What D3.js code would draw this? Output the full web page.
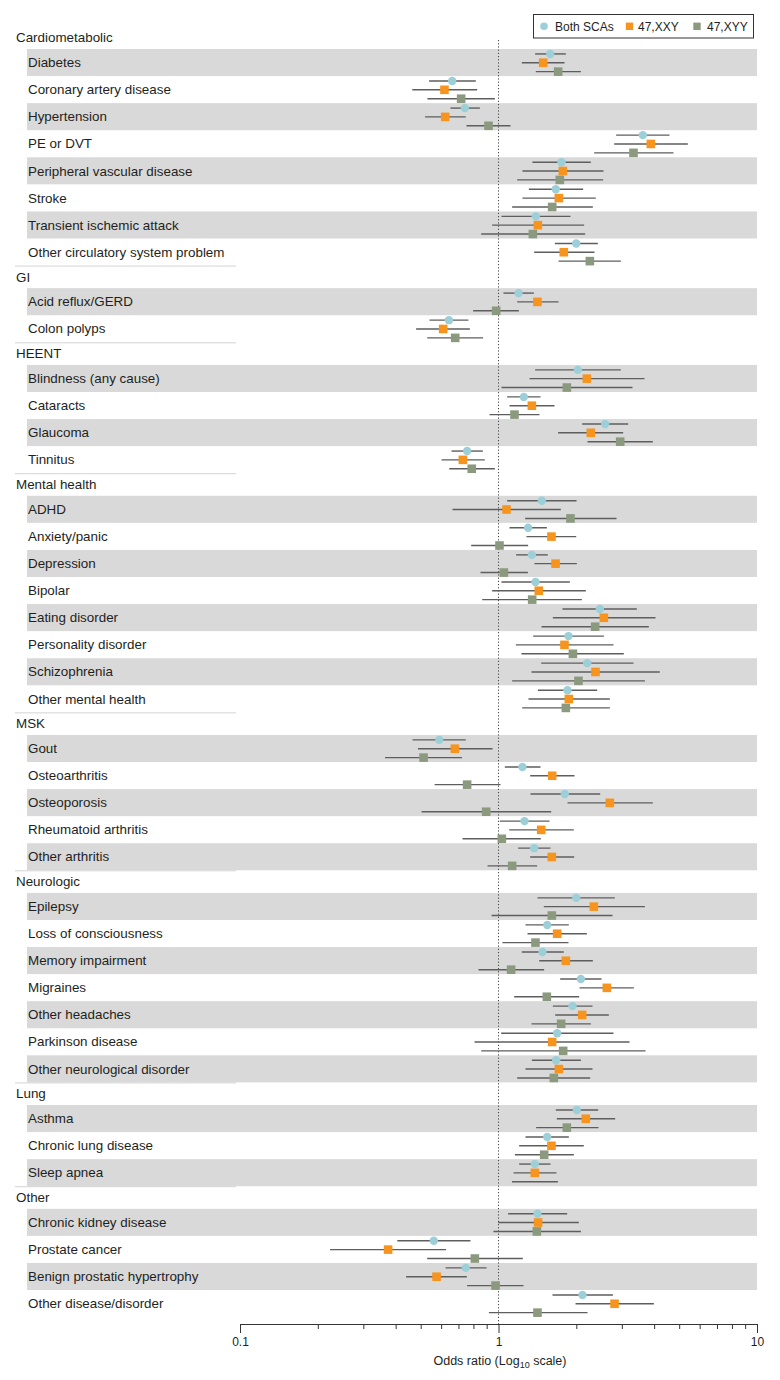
<!DOCTYPE html>
<html><head><meta charset="utf-8">
<script src="https://cdn.jsdelivr.net/npm/d3@7"></script>
<style>
body{margin:0;background:#fff}
svg text{font-family:"Liberation Sans",Arial,sans-serif;fill:#231f20}
</style>
</head><body>
<svg id="chart" width="780" height="1380"></svg>
<script>
const groupNames = ["Cardiometabolic","GI","HEENT","Mental health","MSK","Neurologic","Lung","Other"];
const groupCounts = [8,2,4,8,5,7,3,4];
const labels = [
 "Diabetes","Coronary artery disease","Hypertension","PE or DVT","Peripheral vascular disease","Stroke","Transient ischemic attack","Other circulatory system problem",
 "Acid reflux/GERD","Colon polyps",
 "Blindness (any cause)","Cataracts","Glaucoma","Tinnitus",
 "ADHD","Anxiety/panic","Depression","Bipolar","Eating disorder","Personality disorder","Schizophrenia","Other mental health",
 "Gout","Osteoarthritis","Osteoporosis","Rheumatoid arthritis","Other arthritis",
 "Epilepsy","Loss of consciousness","Memory impairment","Migraines","Other headaches","Parkinson disease","Other neurological disorder",
 "Asthma","Chronic lung disease","Sleep apnea",
 "Chronic kidney disease","Prostate cancer","Benign prostatic hypertrophy","Other disease/disorder"
];
const seriesNames = ["Both SCAs","47,XXY","47,XYY"];
// Both SCAs
const bothOR = [1.585,0.662,0.741,3.617,1.753,1.666,1.394,1.998, 1.195,0.643, 2.027,1.253,2.586,0.756, 1.471,1.302,1.346,1.390,2.466,1.865,2.203,1.849, 0.590,1.238,1.805,1.261,1.374, 1.998,1.543,1.480,2.083,1.933,1.686,1.671, 2.009,1.543,1.382, 1.415,0.562,0.747,2.113];
const bothLo = [1.386,0.539,0.652,2.852,1.353,1.310,1.027,1.652, 1.045,0.541, 1.386,1.080,2.107,0.658, 1.080,1.103,1.170,1.027,1.768,1.362,1.463,1.420, 0.465,1.058,1.330,1.012,1.191, 1.415,1.272,1.231,1.732,1.623,1.024,1.346, 1.666,1.272,1.202, 1.090,0.406,0.624,1.618];
const bothHi = [1.822,0.817,0.847,4.586,2.276,2.126,1.899,2.423, 1.370,0.765, 2.973,1.454,3.174,0.870, 2.004,1.538,1.551,1.888,3.428,2.556,3.328,2.409, 0.747,1.454,2.474,1.575,1.589, 2.818,1.871,1.789,2.503,2.310,2.785,2.083, 2.430,1.871,1.589, 1.843,0.779,0.899,2.769];
// 47,XXY
const xxyOR = [1.489,0.618,0.622,3.884,1.774,1.712,1.420,1.789, 1.415,0.611, 2.197,1.346,2.276,0.728, 1.074,1.603,1.662,1.432,2.556,1.800,2.372,1.871, 0.678,1.613,2.696,1.463,1.608, 2.338,1.686,1.822,2.625,2.107,1.613,1.712, 2.177,1.603,1.382, 1.423,0.374,0.576,2.811];
const xxyLo = [1.231,0.464,0.520,2.802,1.238,1.238,0.945,1.374, 1.181,0.480, 1.318,1.103,1.701,0.602, 0.664,1.283,1.378,0.945,1.623,1.167,1.342,1.306, 0.488,1.326,1.849,1.100,1.326, 1.497,1.295,1.437,2.058,1.657,0.808,1.272, 1.681,1.202,1.143, 0.997,0.223,0.439,1.986];
const xxyHi = [1.800,0.827,0.747,5.400,2.548,2.379,2.145,2.352, 1.707,0.775, 3.671,1.647,3.036,0.885, 1.742,1.998,2.009,2.177,4.049,2.785,4.208,2.696, 0.948,1.968,3.954,1.956,1.962, 3.683,2.197,2.317,3.338,2.672,3.213,2.310, 2.827,2.138,1.676, 2.045,0.627,0.754,3.990];
// 47,XYY (no point estimate shown for sleep apnea)
const xyyOR = [1.701,0.717,0.915,3.328,1.727,1.613,1.358,2.256, 0.979,0.680, 1.838,1.153,2.956,0.788, 1.899,1.009,1.049,1.350,2.365,1.940,2.039,1.822, 0.513,0.756,0.896,1.030,1.129, 1.608,1.390,1.119,1.538,1.747,1.779,1.637, 1.838,1.502,null, 1.407,0.810,0.974,1.415];
const xyyLo = [1.394,0.531,0.752,2.345,1.181,1.129,0.857,1.707, 0.798,0.530, 1.027,0.923,2.210,0.645, 1.268,0.784,0.852,0.865,1.467,1.227,1.129,1.235, 0.364,0.566,0.504,0.726,0.907, 0.940,1.036,0.837,1.150,1.342,0.857,1.181, 1.398,1.157,1.127, 0.956,0.530,0.756,0.918];
const xyyHi = [2.083,0.968,1.113,4.753,2.540,2.317,2.164,2.973, 1.199,0.872, 3.299,1.441,3.954,0.968, 2.861,1.302,1.299,2.101,3.816,3.053,3.683,2.696, 0.723,1.018,1.599,1.458,1.411, 2.761,1.865,1.502,2.051,2.276,3.704,2.263, 2.437,1.956,1.697, 2.083,1.242,1.249,2.210];
const xTickLabels = [0.1,1,10];
const xAxisTitle = "Odds ratio (Log";

const colors = ["#9ccfd8","#f7941d","#8b9a7f"];
const svg = d3.select("#chart");

// rows layout in "units" (item row = 1, header row smaller)
const HU = 0.835;
const rows = [];
let u = 0, idx = 0;
groupNames.forEach((g, gi) => {
  rows.push({type:"h", name:g, u0:u, u1:u+HU, gi});
  u += HU;
  for (let k = 0; k < groupCounts[gi]; k++) {
    rows.push({type:"i", idx, pos:k, gi, u0:u, u1:u+1, last:k===groupCounts[gi]-1});
    u += 1; idx++;
  }
});
const y = d3.scaleLinear().domain([0, u]).range([26.4, 26.4 + u*27.07]);
const x = d3.scaleLog().domain([0.1, 10]).range([240, 757]);
const axisY = 1324;

const items = rows.filter(r => r.type === "i");
const headers = rows.filter(r => r.type === "h");

// bands
svg.append("g").selectAll("rect").data(items.filter(r => r.pos % 2 === 0)).join("rect")
  .attr("x", 27).attr("width", 757 - 27)
  .attr("y", r => y(r.u0)).attr("height", r => y(r.u1) - y(r.u0))
  .attr("fill", "#d9d9d9");

// group separators
svg.append("g").selectAll("line").data(items.filter(r => r.last && r.gi < groupNames.length - 1)).join("line")
  .attr("x1", 15).attr("x2", 236)
  .attr("y1", r => y(r.u1) + 0.5).attr("y2", r => y(r.u1) + 0.5)
  .attr("stroke", "#d4d4d4").attr("stroke-width", 1);

// labels
svg.append("g").selectAll("text").data(headers).join("text")
  .attr("x", 16).attr("y", r => (y(r.u0) + y(r.u1)) / 2).attr("dy", "0.35em")
  .attr("font-size", 13.4).text(r => r.name);
svg.append("g").selectAll("text").data(items).join("text")
  .attr("x", 28).attr("y", r => (y(r.u0) + y(r.u1)) / 2).attr("dy", "0.35em")
  .attr("font-size", 13.4).text(r => labels[r.idx]);

// reference line
svg.append("line").attr("x1", x(1)).attr("x2", x(1)).attr("y1", 40).attr("y2", axisY)
  .attr("stroke", "#444").attr("stroke-width", 1).attr("stroke-dasharray", "1.2,2");

// series
const series = [
  {or: bothOR, lo: bothLo, hi: bothHi, off: -8.8, shape: "circle"},
  {or: xxyOR, lo: xxyLo, hi: xxyHi, off: 0, shape: "square"},
  {or: xyyOR, lo: xyyLo, hi: xyyHi, off: 8.9, shape: "square"}
];
const rowC = r => (y(r.u0) + y(r.u1)) / 2 + 0.2;
series.forEach((s, si) => {
  const g = svg.append("g");
  g.selectAll("line").data(items).join("line")
    .attr("x1", r => x(s.lo[r.idx])).attr("x2", r => x(s.hi[r.idx]))
    .attr("y1", r => rowC(r) + s.off).attr("y2", r => rowC(r) + s.off)
    .attr("stroke", "#5e5e5e").attr("stroke-width", 1.4);
  const pts = items.filter(r => s.or[r.idx] != null);
  if (s.shape === "circle") {
    g.selectAll("circle").data(pts).join("circle")
      .attr("cx", r => x(s.or[r.idx])).attr("cy", r => rowC(r) + s.off)
      .attr("r", 4.2).attr("fill", colors[si]);
  } else {
    g.selectAll("rect").data(pts).join("rect")
      .attr("x", r => x(s.or[r.idx]) - 4.3).attr("y", r => rowC(r) + s.off - 4.3)
      .attr("width", 8.6).attr("height", 8.6).attr("fill", colors[si]);
  }
});

// axis
const tickVals = [];
for (let e = -1; e <= 0; e++) for (let m = 1; m <= 9; m++) tickVals.push(+(m * Math.pow(10, e)).toPrecision(3));
tickVals.push(10);
const axis = d3.axisBottom(x).tickValues(tickVals).tickSizeOuter(0)
  .tickFormat(d => xTickLabels.includes(d) ? String(d) : "");
const ag = svg.append("g").attr("transform", `translate(0,${axisY})`).call(axis);
ag.select(".domain").attr("stroke", "#333").attr("stroke-width", 1);
ag.selectAll(".tick line").attr("stroke", "#333").attr("y2", d => xTickLabels.includes(d) ? 9 : 5);
ag.selectAll(".tick text").attr("y", 13).attr("font-size", 12)
  .attr("font-family", '"Liberation Sans",Arial,sans-serif').attr("fill", "#231f20");

const title = svg.append("text").attr("x", 500).attr("y", 1365).attr("text-anchor", "middle").attr("font-size", 12.5);
title.append("tspan").text(xAxisTitle);
title.append("tspan").attr("font-size", 9).attr("dy", 3).text("10");
title.append("tspan").attr("dy", -3).text(" scale)");

// legend
const lg = svg.append("g");
lg.append("rect").attr("x", 533.5).attr("y", 14.5).attr("width", 220).attr("height", 23.5)
  .attr("fill", "#fff").attr("stroke", "#333").attr("stroke-width", 1);
const legX = [544, 629.5, 697];
const legTX = [555, 638, 707];
seriesNames.forEach((n, i) => {
  if (i === 0) lg.append("circle").attr("cx", legX[i]).attr("cy", 26.3).attr("r", 3.8).attr("fill", colors[i]);
  else lg.append("rect").attr("x", legX[i] - 3.7).attr("y", 22.6).attr("width", 7.4).attr("height", 7.4).attr("fill", colors[i]);
  lg.append("text").attr("x", legTX[i]).attr("y", 26.3).attr("dy", "0.35em").attr("font-size", 12).text(n);
});
</script>
</body></html>
